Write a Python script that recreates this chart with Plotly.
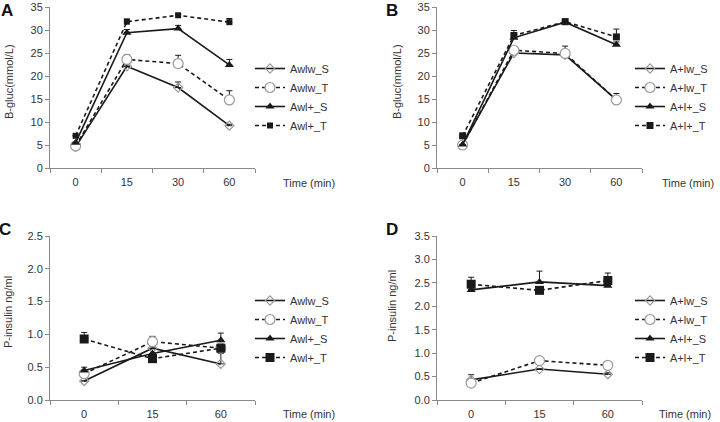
import plotly.graph_objects as go

# ---------------- data ----------------
time_glu = ["0", "15", "30", "60"]
time_ins = ["0", "15", "60"]

names_A = ["Awlw_S", "Awlw_T", "Awl+_S", "Awl+_T"]
names_B = ["A+lw_S", "A+lw_T", "A+l+_S", "A+l+_T"]

# Panel A: blood glucose (mmol/L)
A_lw_S = [4.6, 22.1, 17.5, 9.2]
A_lw_T = [4.8, 23.6, 22.7, 14.8]
A_lp_S = [5.5, 29.4, 30.3, 22.4]
A_lp_T = [7.0, 31.8, 33.2, 31.7]
A_lw_S_err = [0.0, 0.3, 1.2, 0.3]
A_lw_T_err = [0.0, 1.0, 1.8, 2.0]
A_lp_S_err = [0.0, 0.7, 0.7, 1.2]
A_lp_T_err = [0.0, 0.6, 0.3, 0.8]

# Panel B: blood glucose (mmol/L)
B_lw_S = [5.1, 25.0, 24.6, 14.8]
B_lw_T = [5.0, 25.6, 24.9, 14.8]
B_lp_S = [5.1, 28.3, 31.7, 26.8]
B_lp_T = [7.0, 28.8, 31.8, 28.5]
B_lw_S_err = [0.0, 0.3, 0.3, 1.4]
B_lw_T_err = [0.0, 0.8, 1.6, 0.6]
B_lp_S_err = [0.0, 0.5, 0.5, 0.6]
B_lp_T_err = [0.0, 1.1, 0.6, 1.7]

# Panel C: plasma insulin (ng/ml)
C_lw_S = [0.29, 0.79, 0.55]
C_lw_T = [0.40, 0.89, 0.79]
C_lp_S = [0.45, 0.71, 0.91]
C_lp_T = [0.93, 0.63, 0.79]
C_lw_S_err = [0.0, 0.0, 0.16]
C_lw_T_err = [0.0, 0.08, 0.0]
C_lp_S_err = [0.05, 0.0, 0.11]
C_lp_T_err = [0.1, 0.0, 0.0]

# Panel D: plasma insulin (ng/ml)
D_lw_S = [0.43, 0.66, 0.55]
D_lw_T = [0.36, 0.84, 0.74]
D_lp_S = [2.35, 2.52, 2.44]
D_lp_T = [2.47, 2.34, 2.55]
D_lw_S_err = [0.11, 0.0, 0.03]
D_lw_T_err = [0.0, 0.06, 0.07]
D_lp_S_err = [0.0, 0.23, 0.0]
D_lp_T_err = [0.15, 0.0, 0.16]

# ---------------- styling ----------------
W, H = 720, 422
FONT = "Liberation Sans, Arial, sans-serif"
TXT = "#333333"
LINE = "#1a1a1a"
OPEN = "#9a9a9a"
DASH = "4px,3px"


def px_x(x):
    return x / W


def px_y(y):
    return 1 - y / H


def style(i, sq_size):
    if i == 0:
        return dict(dash="solid", marker=dict(symbol="diamond-open", size=7, color=OPEN,
                                              line=dict(width=1.2, color=OPEN)))
    if i == 1:
        return dict(dash=DASH, marker=dict(symbol="circle", size=10, color="white",
                                           line=dict(width=1.2, color=OPEN)))
    if i == 2:
        return dict(dash="solid", marker=dict(symbol="triangle-up", size=8, color=LINE,
                                              line=dict(width=0)))
    return dict(dash=DASH, marker=dict(symbol="square", size=sq_size, color=LINE,
                                       line=dict(width=0)))


fig = go.Figure()

panels = [
    ("x", "y", "legend", time_glu, names_A,
     [A_lw_S, A_lw_T, A_lp_S, A_lp_T], [A_lw_S_err, A_lw_T_err, A_lp_S_err, A_lp_T_err], 6),
    ("x2", "y2", "legend2", time_glu, names_B,
     [B_lw_S, B_lw_T, B_lp_S, B_lp_T], [B_lw_S_err, B_lw_T_err, B_lp_S_err, B_lp_T_err], 7),
    ("x3", "y3", "legend3", time_ins, names_A,
     [C_lw_S, C_lw_T, C_lp_S, C_lp_T], [C_lw_S_err, C_lw_T_err, C_lp_S_err, C_lp_T_err], 9),
    ("x4", "y4", "legend4", time_ins, names_B,
     [D_lw_S, D_lw_T, D_lp_S, D_lp_T], [D_lw_S_err, D_lw_T_err, D_lp_S_err, D_lp_T_err], 9),
]

for xa, ya, lg, cats, names, series, errs, sq in panels:
    for i, (nm, vals, er) in enumerate(zip(names, series, errs)):
        st = style(i, sq)
        fig.add_trace(go.Scatter(
            x=cats, y=vals, name=nm, xaxis=xa, yaxis=ya, legend=lg,
            mode="lines+markers",
            line=dict(color=LINE, width=1.6, dash=st["dash"]),
            marker=st["marker"],
            error_y=dict(type="data", symmetric=False, array=er,
                         arrayminus=[0] * len(er), color=LINE, thickness=1, width=3),
        ))

# ---------------- axes ----------------
axis_common = dict(showline=True, linecolor="#8a8a8a", linewidth=1, ticks="outside",
                   ticklen=4, tickcolor="#8a8a8a", showgrid=False, zeroline=False,
                   ticklabeloverflow="allow",
                   tickfont=dict(family=FONT, size=11, color=TXT))

x_left = [px_x(50), px_x(255)]
x_right = [px_x(437), px_x(642)]
y_top = [px_y(168), px_y(7)]
y_bot = [px_y(400), px_y(236)]

layout = dict(
    width=W, height=H,
    margin=dict(l=0, r=0, t=0, b=0, autoexpand=False),
    paper_bgcolor="white", plot_bgcolor="white",
    showlegend=True,
    font=dict(family=FONT, size=11, color=TXT),
)

xcfg = [("xaxis", x_left, y_top, "y", time_glu), ("xaxis2", x_right, y_top, "y2", time_glu),
        ("xaxis3", x_left, y_bot, "y3", time_ins), ("xaxis4", x_right, y_bot, "y4", time_ins)]
ycfg = [("yaxis", x_left, y_top, "x", 35, 5, ""), ("yaxis2", x_right, y_top, "x2", 35, 5, ""),
        ("yaxis3", x_left, y_bot, "x3", 2.5, 0.5, ".1f"), ("yaxis4", x_right, y_bot, "x4", 3.5, 0.5, ".1f")]

for name, dx, dy, anchor, cats in xcfg:
    layout[name] = dict(axis_common, domain=dx, anchor=anchor, type="category",
                        categoryorder="array", categoryarray=cats,
                        range=[-0.5, len(cats) - 0.5], tickson="boundaries",
                        ticklabelstandoff=4)
for name, dx, dy, anchor, top, dt, fmt in ycfg:
    layout[name] = dict(axis_common, domain=dy, anchor=anchor, range=[0, top],
                        dtick=dt, tick0=0, tickformat=fmt)

leg_common = dict(xanchor="left", yanchor="top", bgcolor="rgba(0,0,0,0)",
                  font=dict(family=FONT, size=11, color=TXT), itemwidth=30,
                  tracegroupgap=0)
layout["legend"] = dict(leg_common, x=px_x(250), y=px_y(54))
layout["legend2"] = dict(leg_common, x=px_x(630), y=px_y(54))
layout["legend3"] = dict(leg_common, x=px_x(250), y=px_y(286))
layout["legend4"] = dict(leg_common, x=px_x(630), y=px_y(286))

fig.update_layout(**layout)

# ---------------- annotations ----------------
ann = []
for txt, x, y in [("A", 7, 11), ("B", 392, 10), ("C", 5, 230), ("D", 392, 230)]:
    ann.append(dict(text="<b>%s</b>" % txt, x=px_x(x), y=px_y(y), xref="paper", yref="paper",
                    xanchor="center", yanchor="middle",
                    showarrow=False, font=dict(family=FONT, size=17, color="#111")))
for txt, x, y in [("B-gluc(mmol/L)", 9, 82), ("B-gluc(mmol/L)", 397, 82),
                  ("P-insulin ng/ml", 8, 312), ("P-insulin ng/ml", 392, 306)]:
    ann.append(dict(text=txt, x=px_x(x), y=px_y(y), xref="paper", yref="paper",
                    xanchor="center", yanchor="middle",
                    showarrow=False, textangle=-90, font=dict(family=FONT, size=11, color=TXT)))
for x, y in [(309, 183), (688, 183), (309, 414), (685, 414)]:
    ann.append(dict(text="Time (min)", x=px_x(x), y=px_y(y), xref="paper", yref="paper",
                    xanchor="center", yanchor="middle",
                    showarrow=False, font=dict(family=FONT, size=11, color=TXT)))
fig.update_layout(annotations=ann)

fig.write_html("out.html", config={"displayModeBar": False},
               post_script="document.body.style.margin='0';document.body.style.overflow='hidden';")
